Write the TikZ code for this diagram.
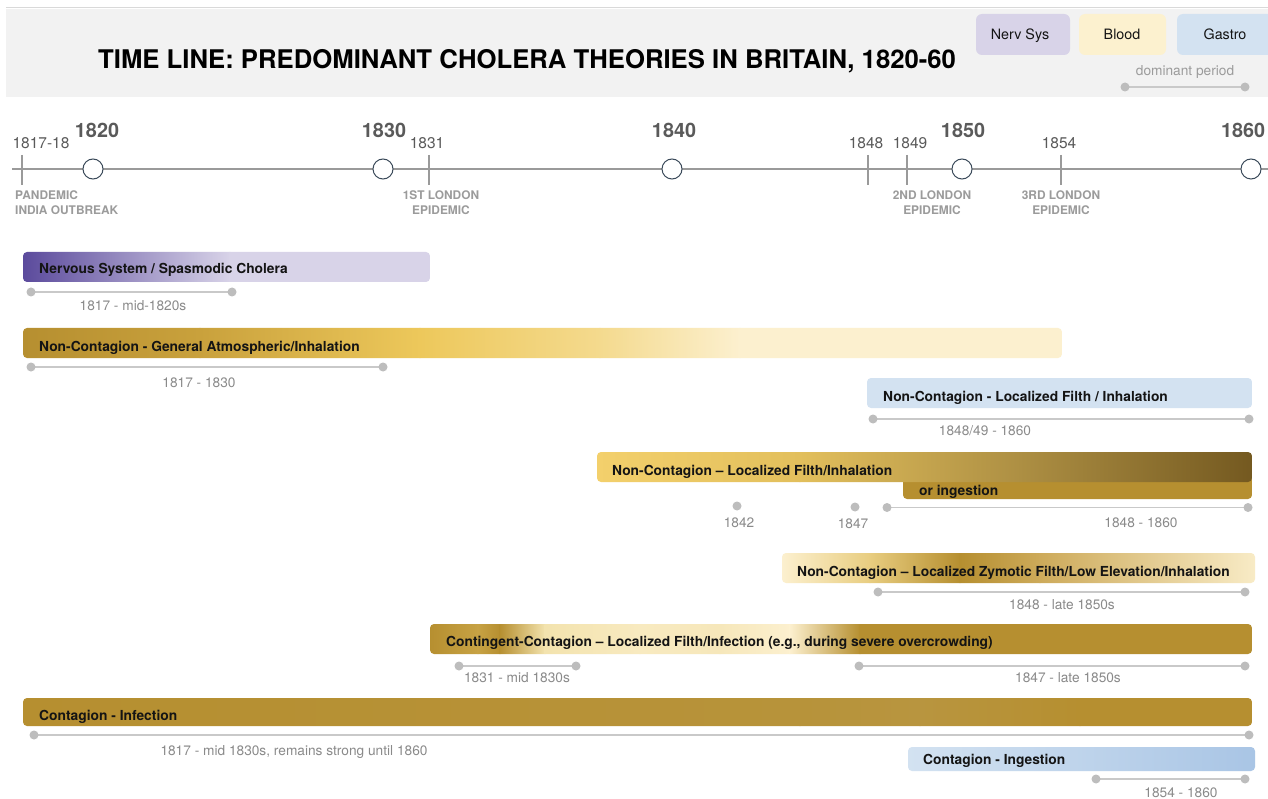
\documentclass[tikz,border=0pt]{standalone}
\usepackage{fontspec}
\setmainfont{TeX Gyre Heros}
\definecolor{hdrbg}{HTML}{F2F2F2}
\definecolor{hdrline}{HTML}{D9D9D9}
\definecolor{nerv}{HTML}{D8D3E8}
\definecolor{blood}{HTML}{FCF1CF}
\definecolor{gastro}{HTML}{D3E2F1}
\definecolor{blueb}{HTML}{A9C5E5}
\definecolor{purp}{HTML}{5B4A9C}
\definecolor{gA}{HTML}{B68F30}
\definecolor{gB}{HTML}{C9A13C}
\definecolor{gC}{HTML}{EDC85B}
\definecolor{gD}{HTML}{F4DA8E}
\definecolor{pale}{HTML}{FCF0CF}
\definecolor{brown}{HTML}{745920}
\definecolor{fA}{HTML}{F3D06C}
\definecolor{fB}{HTML}{E2BF5C}
\definecolor{fC}{HTML}{AD8F43}
\definecolor{zA}{HTML}{E8CD80}
\definecolor{zB}{HTML}{CDAA5A}
\definecolor{zC}{HTML}{F8EBC6}
\definecolor{cA}{HTML}{C7A244}
\definecolor{cB}{HTML}{F3E3AE}
\definecolor{cC}{HTML}{F8EAC0}
\definecolor{cD}{HTML}{F6E7BA}
\definecolor{kA}{HTML}{B7933A}
\definecolor{kB}{HTML}{B8953F}
\definecolor{axisc}{HTML}{9A9A9A}
\definecolor{circc}{HTML}{3B4A5A}
\definecolor{rlinec}{HTML}{C9C9C9}
\definecolor{rdotc}{HTML}{BDBDBD}
\definecolor{rtext}{HTML}{8A8A8A}
\definecolor{ytext}{HTML}{5A5A5A}
\definecolor{evtext}{HTML}{9B9B9B}
\definecolor{lbltext}{HTML}{141414}

\newcommand{\gbar}[5]{%
  \begin{scope}
    \clip[rounded corners=4pt] (#1,#2) rectangle (#3,#4);
    \foreach \xa/\ca/\xb/\cb in {#5} {%
      \shade[left color=\ca, right color=\cb] (\xa-0.4,#2-1) rectangle (\xb+0.4,#4+1);
    }
  \end{scope}}

\newcommand{\rng}[4]{%
  \coordinate (#1-a) at (#2,#4);
  \coordinate (#1-b) at (#3,#4);
  \draw[rline] (#1-a) -- (#1-b);
  \fill[rdot] (#1-a) circle (4.5);
  \fill[rdot] (#1-b) circle (4.5);}

\begin{document}
\begin{tikzpicture}[x=1pt,y=-1pt,
  rline/.style={draw=rlinec, line width=1.8pt},
  rdot/.style={fill=rdotc},
  barlbl/.style={font=\fontsize{13.8}{16}\selectfont\bfseries, text=lbltext, anchor=base west, inner sep=0pt},
  rlbl/.style={font=\fontsize{13.7}{16}\selectfont, text=rtext, anchor=base, inner sep=0pt},
  bigyear/.style={font=\fontsize{19.8}{22}\selectfont\bfseries, text=ytext, anchor=base, inner sep=0pt},
  smallyear/.style={font=\fontsize{15.5}{18}\selectfont, text=ytext, anchor=base, inner sep=0pt},
  evlbl/.style={font=\fontsize{11.9}{14}\selectfont\bfseries, text=evtext, anchor=base, inner sep=0pt},
  legbox/.style={rounded corners=6pt},
  leglbl/.style={font=\fontsize{14.3}{17}\selectfont, text=lbltext, anchor=base, inner sep=0pt},
  yearcirc/.style={draw=circc, fill=white, line width=1pt},
  tickln/.style={draw=axisc, line width=1.2pt}
]
\useasboundingbox (0,0) rectangle (1268,799);
\fill[white] (0,0) rectangle (1268,799);

% header
\fill[hdrbg] (6,9) rectangle (1268,97);
\draw[hdrline, line width=1.5pt] (6,7.5) -- (1268,7.5);
\node[font=\fontsize{25.7}{30}\selectfont\bfseries, anchor=base west, inner sep=0pt] (title) at (98,69)
  {TIME LINE: PREDOMINANT CHOLERA THEORIES IN BRITAIN, 1820-60};

% legend
\fill[nerv, legbox] (976,14) rectangle (1070,55);
\fill[blood, legbox] (1079,14) rectangle (1166,55);
\fill[gastro, legbox] (1177,14) rectangle (1274,55);
\node[leglbl] (lnerv) at (1020,40) {Nerv Sys};
\node[leglbl] (lblood) at (1122,40) {Blood};
\node[leglbl] (lgastro) at (1225,40) {Gastro};
\node[rlbl, text=evtext] (ldom) at (1185,76) {dominant period};
\rng{lg}{1125}{1245}{87}

% axis
\coordinate (axl) at (12,169);
\coordinate (axr) at (1268,169);
\draw[draw=axisc, line width=1.5pt] (axl) -- (axr);
\foreach \tx/\tn in {22/t1817, 429/t1831, 868/t1848, 907/t1849, 1061/t1854} {
  \coordinate (\tn-top) at (\tx,155);
  \coordinate (\tn-bot) at (\tx,185);
  \draw[tickln] (\tn-top) -- (\tn-bot);
}
\foreach \cx/\cn in {93/c1820, 383/c1830, 672/c1840, 962/c1850, 1251/c1860} {
  \node[yearcirc, circle, minimum size=20pt, inner sep=0pt] (\cn) at (\cx,169) {};
}
\node[bigyear] (y1820) at (97,138) {1820};
\node[bigyear] (y1830) at (384,138) {1830};
\node[bigyear] (y1840) at (674,138) {1840};
\node[bigyear] (y1850) at (963,138) {1850};
\node[bigyear] (y1860) at (1243,138) {1860};
\node[smallyear] (s1817) at (41,148.5) {1817-18};
\node[smallyear] (s1831) at (427,148.5) {1831};
\node[smallyear] (s1848) at (866,148.5) {1848};
\node[smallyear] (s1849) at (910,148.5) {1849};
\node[smallyear] (s1854) at (1059,148.5) {1854};

\node[evlbl, anchor=base west] (e1a) at (15,200) {PANDEMIC};
\node[evlbl, anchor=base west] (e1b) at (15,215) {INDIA OUTBREAK};
\node[evlbl] (e2a) at (441,200) {1ST LONDON};
\node[evlbl] (e2b) at (441,215) {EPIDEMIC};
\node[evlbl] (e3a) at (932,200) {2ND LONDON};
\node[evlbl] (e3b) at (932,215) {EPIDEMIC};
\node[evlbl] (e4a) at (1061,200) {3RD LONDON};
\node[evlbl] (e4b) at (1061,215) {EPIDEMIC};

% bar 1
\gbar{23}{252}{430}{282}{23/purp/230/nerv, 230/nerv/430/nerv}
\node[barlbl] (b1) at (39,274) {Nervous System / Spasmodic Cholera};
\rng{r1}{31}{232}{292}
\node[rlbl] (r1l) at (133,311) {1817 - mid-1820s};

% bar 2
\gbar{23}{328}{1062}{358}{23/gA/200/gB, 200/gB/420/gC, 420/gC/600/gD, 600/gD/740/pale, 740/pale/1062/pale}
\node[barlbl] (b2) at (39,351) {Non-Contagion - General Atmospheric/Inhalation};
\rng{r2}{31}{383}{367}
\node[rlbl] (r2l) at (199,387) {1817 - 1830};

% bar 3
\gbar{867}{378}{1252}{408}{867/gastro/1252/gastro}
\node[barlbl] (b3) at (883,401) {Non-Contagion - Localized Filth / Inhalation};
\rng{r3}{873}{1249}{419}
\node[rlbl] (r3l) at (985,435) {1848/49 - 1860};

% bar 4
\gbar{903}{476}{1252}{499}{903/gA/1252/gA}
\gbar{597}{452}{1252}{482}{597/fA/800/fB, 800/fB/1020/fC, 1020/fC/1252/brown}
\node[barlbl] (b4) at (612,475) {Non-Contagion -- Localized Filth/Inhalation};
\node[barlbl] (b4s) at (919,495) {or ingestion};
\coordinate (d42) at (737,506);
\coordinate (d47) at (855,507);
\fill[rdot] (d42) circle (4.5);
\fill[rdot] (d47) circle (4.5);
\rng{r4}{887}{1248}{507.5}
\node[rlbl] (r4a) at (739,527) {1842};
\node[rlbl] (r4b) at (853,528) {1847};
\node[rlbl] (r4c) at (1141,527) {1848 - 1860};

% bar 5
\gbar{782}{553}{1255}{583}{782/pale/870/zA, 870/zA/960/gA, 960/gA/1040/zB, 1040/zB/1255/zC}
\node[barlbl] (b5) at (797,576) {Non-Contagion -- Localized Zymotic Filth/Low Elevation/Inhalation};
\rng{r5}{878}{1245}{592}
\node[rlbl] (r5l) at (1062,609) {1848 - late 1850s};

% bar 6
\gbar{430}{624}{1252}{654}{430/gA/478/cA, 478/cA/500/gA, 500/gA/545/cB, 545/cB/640/cC, 640/cC/720/cD, 720/cD/790/pale, 790/pale/860/gA, 860/gA/1252/gA}
\node[barlbl] (b6) at (446,646) {Contingent-Contagion -- Localized Filth/Infection (e.g., during severe overcrowding)};
\rng{r6a}{459}{576}{666}
\node[rlbl] (r6al) at (517,682) {1831 - mid 1830s};
\rng{r6b}{859}{1245}{666}
\node[rlbl] (r6bl) at (1068,682) {1847 - late 1850s};

% bar 7
\gbar{23}{698}{1252}{726}{23/gA/800/kA, 800/kA/920/kB, 920/kB/1080/gA, 1080/gA/1252/gA}
\node[barlbl] (b7) at (39,720) {Contagion - Infection};
\rng{r7}{34}{1249}{735}
\node[rlbl] (r7l) at (294,755) {1817 - mid 1830s, remains strong until 1860};

% bar 8
\gbar{908}{747}{1255}{771}{908/gastro/1255/blueb}
\node[barlbl] (b8) at (923,764) {Contagion - Ingestion};
\rng{r8}{1096}{1245}{779}
\node[rlbl] (r8l) at (1181,797) {1854 - 1860};
\end{tikzpicture}
\end{document}
